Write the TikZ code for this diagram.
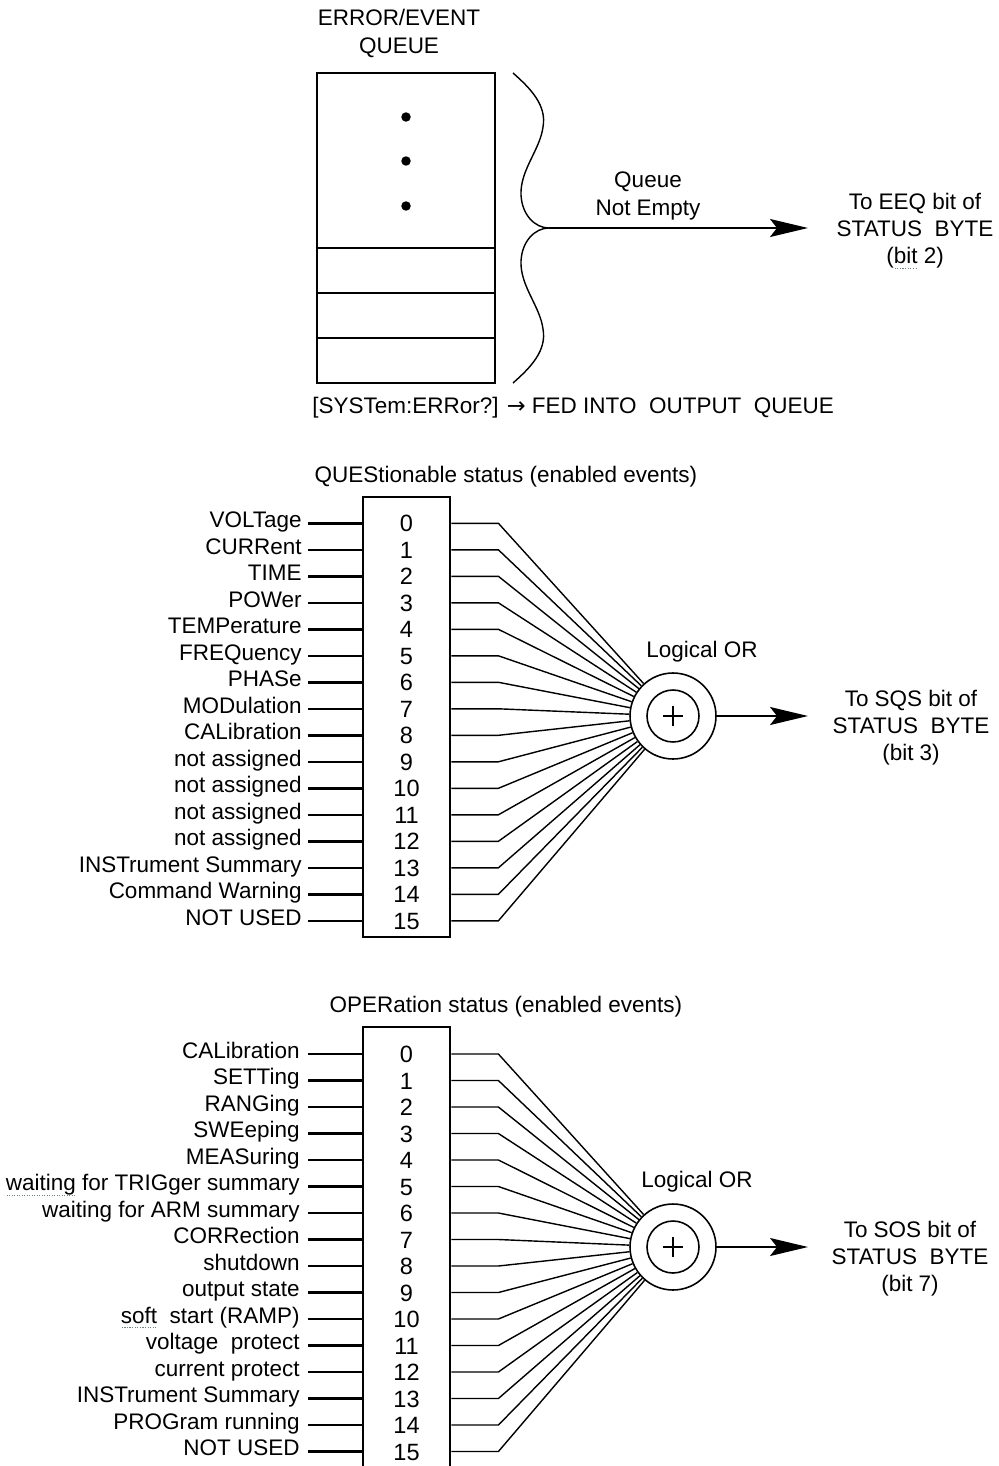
\documentclass[tikz,border=0pt]{standalone}
\usepackage{fontspec}
\setmainfont{Liberation Sans}
\newfontfamily\arrowfont{DejaVu Sans}
\usepackage{xcolor}
\usepackage{tikz}
\usetikzlibrary{arrows.meta,positioning,calc}
\definecolor{spellgray}{RGB}{110,130,120}
\newcommand\labelfont{\fontsize{12.8}{15.4}\selectfont}
\newcommand\numfont{\fontsize{13.4}{15}\selectfont}
\newsavebox\spellbox
\newcommand\spellmark[1]{\sbox\spellbox{#1}\rlap{\raisebox{-0.45ex}{\textcolor{spellgray}{\hbox to \wd\spellbox{\xleaders\hbox to 1.4pt{\hss\rule{0.7pt}{0.7pt}\hss}\hfill}}}}\usebox\spellbox}

\begin{document}
\begin{tikzpicture}[
    x=0.02cm, y=-0.02cm,
    lbl/.style={font=\labelfont, inner sep=0pt},
    num/.style={font=\numfont, inner sep=0pt, anchor=base},
    regbox/.style={draw, line width=1.6pt, minimum width=1.74cm, inner sep=0pt},
    inwire/.style={line width=1.4pt},
    wire/.style={line width=0.8pt},
    orgate/.style={draw, circle, line width=0.9pt, minimum size=1.72cm, inner sep=0pt},
    orcore/.style={draw, circle, line width=0.9pt, minimum size=1.04cm, inner sep=0pt},
    outarrow/.style={-{Stealth[length=7.6mm, width=3.6mm, inset=1.4mm]}, line width=1pt}
]
    \useasboundingbox (0,0) rectangle (998,1466);

    % error/event queue
    \node[regbox, minimum width=3.56cm, minimum height=6.2cm] (queue) at (406,228) {};
    \node[lbl, align=center, above=0.28cm of queue, xshift=-0.14cm] (queuetitle) {ERROR/EVENT\\QUEUE};
    \foreach \y/\w in {248/1.4pt, 293/1.4pt, 338/0.9pt} {
        \coordinate (sep\y) at (406,\y);
        \draw[line width=\w] (sep\y -| queue.west) -- (sep\y -| queue.east);
    }
    \foreach \y in {117,161,206} \fill (406,\y) circle[radius=2.7pt];

    \draw[wire] (513,73) .. controls (530,88) and (547,105) .. (543,127)
        .. controls (540,150) and (520,170) .. (521,195)
        .. controls (522,215) and (535,228) .. (549,228)
        .. controls (535,228) and (522,241) .. (521,261)
        .. controls (520,286) and (540,306) .. (543,329)
        .. controls (547,351) and (530,368) .. (513,383);
    \coordinate (bracetip) at (549,228);
    \coordinate (eeqin) at (808,228);
    \node[lbl, align=center] (notempty) at (648,196) {Queue\\Not Empty};
    \node[lbl, align=center] (eeq) at (915,231) {To EEQ bit of\\STATUS\ \ BYTE\\(\spellmark{bit} 2)};
    \draw[outarrow] (bracetip) -- (eeqin);
    \node[lbl, anchor=base west] (syserr) at (312,413) {[SYSTem:ERRor?] {\arrowfont →} FED INTO\ \ OUTPUT\ \ QUEUE};

    % questionable status register
    \node[lbl, anchor=base] (questitle) at (506,482) {QUEStionable status (enabled events)};
    \node[regbox, minimum height=8.8cm] (qreg) at (406.5,717) {};
    \node[orgate] (qor) at (673,716) {};
    \node[orcore] (qcore) at (qor) {};
    \draw[wire] (qcore.center) ++(-10,0) -- ++(20,0) (qcore.center) ++(0,-10) -- ++(0,20);
    \node[lbl, anchor=base] (qorlbl) at (702,657) {Logical OR};
    \coordinate (sqsin) at (808,716);
    \node[lbl, align=center] (sqs) at (911,728) {To SQS bit of\\STATUS\ \ BYTE\\(bit 3)};
    \draw[outarrow] (qor) -- (sqsin);
    \foreach \lab [count=\i from 0] in {VOLTage, CURRent, TIME, POWer, TEMPerature, FREQuency, PHASe, MODulation, CALibration, not assigned, not assigned, not assigned, not assigned, INSTrument Summary, Command Warning, NOT USED} {
        \coordinate (qin\i) at (308,523.3+26.5*\i);
        \node[lbl, anchor=base east] (qlab\i) at ($(qin\i)+(-6,4.5)$) {\lab};
        \node[num] (qbit\i) at ($(qin\i)+(98.5,8.5)$) {\i};
        \draw[inwire] (qin\i) -- (qin\i -| qreg.west);
        \draw[wire] (qin\i -| qreg.east) -- ++(47,0) -- (qor);
    }

    % operation status register
    \node[lbl, anchor=base] (opertitle) at (506,1012) {OPERation status (enabled events)};
    \node[regbox, minimum height=9.26cm] (oreg) at (406.5,1258.5) {};
    \node[orgate] (oor) at (673,1247) {};
    \node[orcore] (ocore) at (oor) {};
    \draw[wire] (ocore.center) ++(-10,0) -- ++(20,0) (ocore.center) ++(0,-10) -- ++(0,20);
    \node[lbl, anchor=base] (oorlbl) at (697,1187) {Logical OR};
    \coordinate (sosin) at (808,1247);
    \node[lbl, align=center] (sos) at (910,1259) {To SOS bit of\\STATUS\ \ BYTE\\(bit 7)};
    \draw[outarrow] (oor) -- (sosin);
    \foreach \lab [count=\i from 0] in {CALibration, SETTing, RANGing, SWEeping, MEASuring, {\spellmark{waiting} for TRIGger summary}, waiting for ARM summary, CORRection, shutdown, output state, {\spellmark{soft}\ \ start (RAMP)}, voltage\ \ protect, current protect, INSTrument Summary, PROGram running, NOT USED} {
        \coordinate (oin\i) at (308,1054+26.5*\i);
        \node[lbl, anchor=base east] (olab\i) at ($(oin\i)+(-8,4)$) {\lab};
        \node[num] (obit\i) at ($(oin\i)+(98.5,8.5)$) {\i};
        \draw[inwire] (oin\i) -- (oin\i -| oreg.west);
        \draw[wire] (oin\i -| oreg.east) -- ++(47,0) -- (oor);
    }
\end{tikzpicture}
\end{document}
